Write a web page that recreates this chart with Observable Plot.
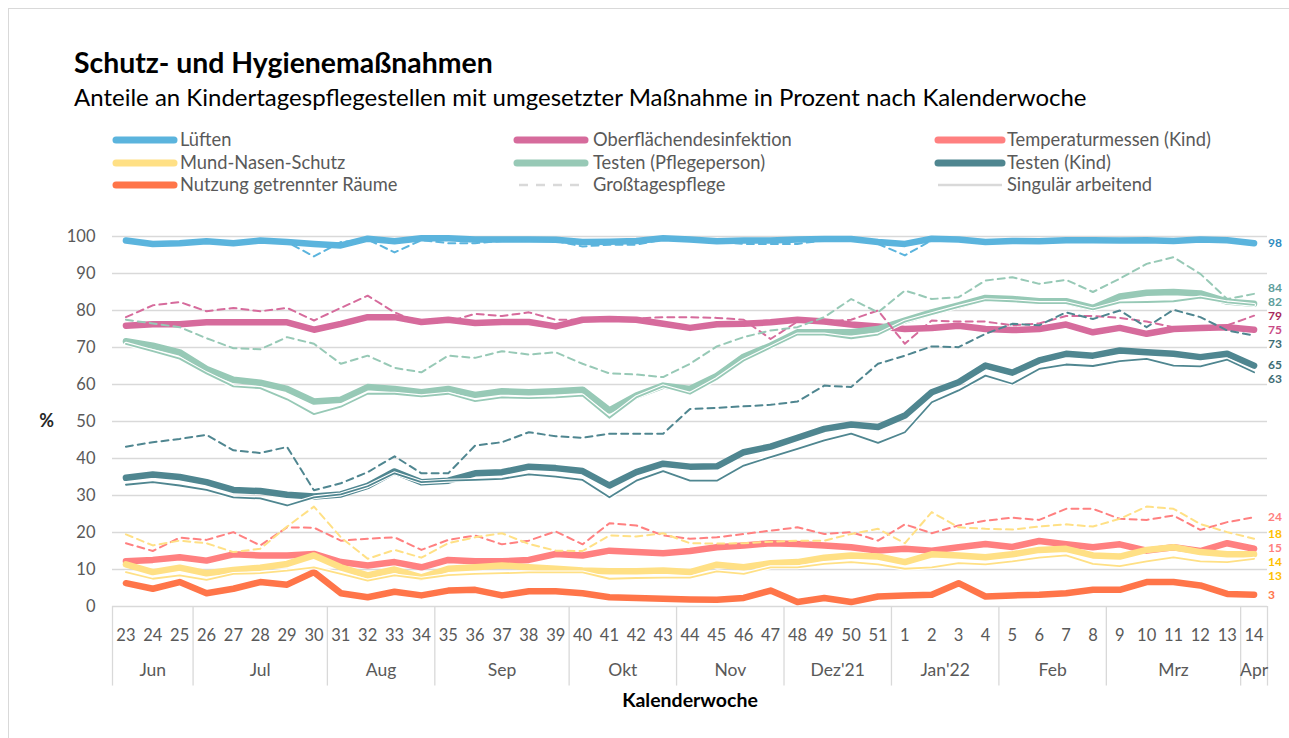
<!DOCTYPE html>
<html>
<head>
<meta charset="utf-8">
<script src="https://cdn.jsdelivr.net/npm/d3@7"></script>
<script src="https://cdn.jsdelivr.net/npm/@observablehq/plot@0.6"></script>
<style>
  html, body { margin: 0; padding: 0; background: #fff; }
  body { width: 1289px; height: 738px; position: relative; overflow: hidden; font-family: Lato, "Open Sans", sans-serif; }
  #frame { position: absolute; left: 8px; top: 8px; width: 1300px; height: 760px; border-left: 1px solid #d9d9d9; border-top: 1px solid #d9d9d9; }
  #title { position: absolute; left: 74px; top: 45px; font-size: 28.4px; font-weight: bold; color: #000; line-height: 34px; white-space: nowrap; }
  #subtitle { position: absolute; left: 74px; top: 82px; font-size: 24px; color: #000; line-height: 30px; white-space: nowrap; }
  #legend { position: absolute; left: 0; top: 125px; }
  #chart { position: absolute; left: 0; top: 200px; }
</style>
</head>
<body>
<div id="frame"></div>
<div id="title">Schutz- und Hygienemaßnahmen</div>
<div id="subtitle">Anteile an Kindertagespflegestellen mit umgesetzter Maßnahme in Prozent nach Kalenderwoche</div>
<svg id="legend" width="1289" height="75"></svg>
<div id="chart"></div>
<script>
// ---------- data ----------
const weekLabels = ["23","24","25","26","27","28","29","30","31","32","33","34","35","36","37","38","39","40","41","42","43","44","45","46","47","48","49","50","51","1","2","3","4","5","6","7","8","9","10","11","12","13","14"];
const monthLabels = ["Jun","Jul","Aug","Sep","Okt","Nov","Dez'21","Jan'22","Feb","Mrz","Apr"];
const monthWeekCounts = [3,5,4,5,4,4,4,4,4,5,1];

const measureNames = ["Lüften","Oberflächendesinfektion","Temperaturmessen (Kind)","Mund-Nasen-Schutz","Testen (Pflegeperson)","Testen (Kind)","Nutzung getrennter Räume"];
const typeNames = ["Gesamt","Großtagespflege","Singulär arbeitend"];

const lueftenGesamt = [98.9,98,98.2,98.7,98.2,98.9,98.5,98,97.6,99.4,98.7,99.5,99.5,99.2,99.2,99.2,99.1,98.5,98.6,98.8,99.5,99.2,98.7,98.9,98.9,99.2,99.3,99.3,98.5,98,99.4,99.2,98.5,98.8,98.7,99,99,98.9,99,98.8,99.2,99,98.2];
const lueftenGross = [98.9,98,98.2,98.7,98.2,98.9,98.5,94.6,98.5,99.2,95.7,99,98.2,98.2,98.8,99,98.8,97.3,97.8,97.8,99.2,99,98.5,98,98,98,99,99.3,98,94.9,99,99,98.5,98.8,98.7,99,99,98.9,99,98.8,99,99,98];

const desGesamt = [75.9,76.3,76.3,76.8,76.8,76.8,76.8,74.8,76.4,78.2,78.2,76.9,77.5,76.6,76.9,76.9,75.7,77.5,77.7,77.5,76.4,75.3,76.3,76.4,76.8,77.5,77,76.2,75.7,75,75.3,75.9,75,74.7,75,76.2,74.1,75.3,73.7,75,75.3,75.5,74.8];
const desGross = [78.2,81.4,82.3,79.8,80.7,79.8,80.7,77.3,80.7,84,79.5,76.5,77,79.1,78.5,79.5,77.5,77.5,77.5,77.8,78.2,78.2,78,77.5,72.3,77,77,77.5,80,71,77.3,77,77,76,76.5,78.5,78.5,78,77,75.5,75.5,76,78.6];

const tempGesamt = [12.2,12.6,13.3,12.4,14.1,13.8,13.8,14.2,12,11.1,12,10.6,12.6,12.2,12.2,12.6,14.2,13.8,15.1,14.7,14.4,15,16,16.5,17.1,16.9,16.5,16,15.1,15.6,15.1,16,16.9,16.1,17.7,16.8,16,16.8,15.1,16,15,17.1,15.6];
const tempGross = [17.1,15,18.6,18,20.1,16.5,21.4,21.3,17.8,18.3,18.7,15.3,18,19.2,16.8,17.8,20.3,16.8,22.5,21.9,19.2,18.3,18.7,19.6,20.5,21.4,19.6,20.1,17.8,22.2,19.8,21.9,23.2,24,23.4,26.4,26.4,23.7,23.4,24.6,20.7,22.8,24.1];

const mnsGesamt = [11.4,9.3,10.5,9,9.9,10.5,11.5,13.8,10.6,8.4,10,7.9,10.2,10.6,11.1,10.6,10.2,9.7,9.5,9.5,9.7,9.3,11.3,10.6,11.7,12,13.2,13.8,13.5,12,14.1,13.8,13.3,14.1,15.3,15.6,13.8,13.5,15.3,16,14.7,14.1,14.1];
const mnsGross = [19.5,16.5,17.8,17.1,14.7,15.6,21.6,27,18.7,12.9,15.3,13.2,17.1,18.7,19.8,16.9,15.1,15,19.2,18.9,19.8,17.1,17,17.1,17.5,17.8,17.8,19.6,21,17.1,25.5,21.4,21,20.8,21.6,22.2,21.6,23.7,27,26.4,22.3,20.1,18.3];
const mnsSing = [9.3,7.5,8.4,7.2,8.8,9,9.7,10.6,8.8,7,8.4,7.5,8.5,8.8,9,9.2,9.2,9.2,7.5,7.7,7.8,7.8,9.5,8.8,10.6,10.6,11.5,12,11.4,10.2,10.6,11.7,11.4,12.2,13.2,13.8,11.5,10.9,12.2,13.3,12.2,12,12.9];

const testPGesamt = [71.7,70.5,68.7,64.2,61.3,60.5,58.8,55.4,55.9,59.3,58.8,57.9,58.8,57.2,58.2,57.9,58.2,58.6,53,57,59.7,58.8,62.3,67.5,70.5,74.1,74.1,74.1,75,77.3,79.5,81.4,83.4,83.1,82.5,82.5,80.7,83.8,84.8,85,84.6,82.4,81.8];
const testPGross = [77.5,76.5,75.5,72.5,69.8,69.5,72.8,71,65.6,67.8,64.5,63.3,67.8,67.2,69,68.1,68.7,65.6,63,62.7,62,65.6,70.3,72.8,74.6,75.5,78.2,83.1,79.5,85.4,83.1,83.6,88.1,89,87.2,88.3,85,88.6,92.6,94.4,89.9,83.1,84.5];
const testPSing = [71,69,67,63,59.5,59,56,52,54,57.5,57.5,56.8,57.5,55.5,56.5,56.3,56.5,57,51,56.5,59.5,57.5,61.5,66.5,70,73.5,73.5,72.5,73.5,77,79,81,82.8,82.5,82,82,80.3,82.2,82.3,82.5,83.5,82.2,81.5];

const testKGesamt = [34.8,35.7,35,33.6,31.5,31.2,30.2,29.7,30.3,32.6,36.5,33.6,34,36,36.3,37.8,37.4,36.6,32.7,36.3,38.6,37.8,37.9,41.7,43.2,45.6,48,49.2,48.5,51.6,57.9,60.6,65.1,63.2,66.5,68.3,67.8,69.2,68.7,68.3,67.4,68.3,65.1];
const testKGross = [43.2,44.4,45.3,46.4,42.2,41.5,43.1,31.4,33.3,36.3,40.6,36,36,43.5,44.4,47.1,46,45.6,46.7,46.7,46.7,53.4,53.7,54.1,54.5,55.4,59.7,59.3,65.6,67.8,70.3,70.1,73.7,76.4,76,79.5,77.7,80,75.5,80.2,78.2,74.6,73.2];
const testKSing = [32.9,33.6,32.7,31.5,29.5,29.2,27.3,29.5,30.3,32.5,36,33.6,34,34.2,34.5,35.7,35.1,34.2,29.5,34,36.6,34,34,38.1,40.4,42.6,44.9,46.7,44.2,47.1,55.2,58.4,62.4,60.2,64.2,65.4,65,66.3,66.9,65.1,64.9,66.7,63.3];

const raumGesamt = [6.3,4.8,6.6,3.6,4.8,6.6,5.9,9.3,3.6,2.5,4,3,4.3,4.5,3,4.1,4.1,3.6,2.5,2.3,2.1,1.9,1.8,2.3,4.3,1.2,2.3,1.2,2.7,3,3.2,6.3,2.7,3,3.2,3.6,4.5,4.5,6.6,6.6,5.7,3.4,3.2];

// end-of-line value labels (text)
const endLabelTexts = ["98","84","82","79","75","73","65","63","24","18","15","14","13","3"];

// ---------- styles / layout (kept apart from data) ----------
const measureColors = ["#5BB4DD","#D66B9C","#FF8080","#FFE085","#97C9B6","#4F8690","#FF7549"];
const labelColors = ["#2E8BC0","#5E9E9C","#5E9E9C","#A8285C","#C94A86","#3D6C74","#3D6C74","#3D6C74","#FF7F7F","#FFC000","#FF7F7F","#FFC000","#FFC000","#FF7549"];
// vertical label placement (de-overlapped), in y-scale units
const endLabelY = [98.1,85.95,82.16,78.38,74.59,70.81,65.14,61.35,24.05,19.6,15.8,12.0,8.24,2.97];

const series = [
  {m:0, t:0, v:lueftenGesamt}, {m:0, t:1, v:lueftenGross},
  {m:1, t:0, v:desGesamt}, {m:1, t:1, v:desGross},
  {m:2, t:0, v:tempGesamt}, {m:2, t:1, v:tempGross},
  {m:3, t:0, v:mnsGesamt}, {m:3, t:1, v:mnsGross}, {m:3, t:2, v:mnsSing},
  {m:4, t:0, v:testPGesamt}, {m:4, t:1, v:testPGross}, {m:4, t:2, v:testPSing},
  {m:5, t:0, v:testKGesamt}, {m:5, t:1, v:testKGross}, {m:5, t:2, v:testKSing},
  {m:6, t:0, v:raumGesamt}
];

const rowsOf = s => s.v.map((v, i) => ({i, v, measure: measureNames[s.m], type: typeNames[s.t]}));

// month boundaries & centers in week-index units
const monthEnds = Array.from(d3.cumsum(monthWeekCounts));
const monthBounds = [-0.5, ...monthEnds.map(e => e - 0.5)];
const monthCenters = monthWeekCounts.map((c, k) => (monthBounds[k] + monthBounds[k + 1]) / 2);

// ---------- legend ----------
const legendItems = [
  {name: measureNames[0], kind: "thick", color: measureColors[0]},
  {name: measureNames[1], kind: "thick", color: measureColors[1]},
  {name: measureNames[2], kind: "thick", color: measureColors[2]},
  {name: measureNames[3], kind: "thick", color: measureColors[3]},
  {name: measureNames[4], kind: "thick", color: measureColors[4]},
  {name: measureNames[5], kind: "thick", color: measureColors[5]},
  {name: measureNames[6], kind: "thick", color: measureColors[6]},
  {name: typeNames[1], kind: "dash", color: "#D9D9D9"},
  {name: typeNames[2], kind: "thin", color: "#D9D9D9"}
];
const colX = [[116, 174, 180], [517, 585, 593], [938, 1002, 1007]];
const rowY = [15, 38, 60];
const lg = d3.select("#legend");
legendItems.forEach((it, k) => {
  const c = colX[k % 3], y = rowY[Math.floor(k / 3)];
  const ln = lg.append("line").attr("x1", c[0]).attr("x2", c[1]).attr("y1", y).attr("y2", y)
    .attr("stroke", it.color).attr("stroke-linecap", it.kind === "thick" ? "round" : "butt");
  if (it.kind === "thick") ln.attr("stroke-width", 7);
  if (it.kind === "dash") ln.attr("stroke-width", 2.5).attr("stroke-dasharray", "9,8").attr("x1", c[0] + 2);
  if (it.kind === "thin") ln.attr("stroke-width", 2.5);
  lg.append("text").attr("x", c[2]).attr("y", y).attr("dy", "0.35em")
    .attr("font-family", "Lato, sans-serif").attr("font-size", 18.3).attr("fill", "#595959").text(it.name);
});

// ---------- chart ----------
const marks = [];
marks.push(Plot.ruleY(d3.range(0, 101, 10), {stroke: "#D9D9D9", strokeWidth: 1.3}));
marks.push(Plot.ruleX(monthBounds, {x: d => d, y1: 0, y2: -21.5, stroke: "#D9D9D9", strokeWidth: 1.3}));

// thick (Gesamt)
series.filter(s => s.t === 0).forEach(s => {
  marks.push(Plot.line(rowsOf(s), {x: "i", y: "v", stroke: measureColors[s.m], strokeWidth: 6.5, strokeLinejoin: "round", strokeLinecap: "round"}));
});
// thin (Singulär arbeitend) with white halo
series.filter(s => s.t === 2).forEach(s => {
  marks.push(Plot.line(rowsOf(s), {x: "i", y: "v", stroke: "#ffffff", strokeWidth: 4, strokeLinejoin: "round"}));
  marks.push(Plot.line(rowsOf(s), {x: "i", y: "v", stroke: measureColors[s.m], strokeWidth: 1.8, strokeLinejoin: "round"}));
});
// dashed (Großtagespflege)
series.filter(s => s.t === 1).forEach(s => {
  marks.push(Plot.line(rowsOf(s), {x: "i", y: "v", stroke: measureColors[s.m], strokeWidth: 2, strokeDasharray: "7,5", strokeLinejoin: "round"}));
});

// week tick labels
marks.push(Plot.text(weekLabels, {x: (d, i) => i, y: () => 0, text: d => d, dy: 29, fill: "#595959", fontSize: 16.5}));
// month labels
marks.push(Plot.text(monthLabels, {x: (d, k) => monthCenters[k], y: () => 0, text: d => d, dy: 64, fill: "#595959", fontSize: 17.5}));
// axis title
marks.push(Plot.text(["Kalenderwoche"], {x: () => 21, y: () => 0, text: d => d, dy: 94, fill: "#000", fontSize: 19.5, fontWeight: "bold"}));
marks.push(Plot.text(["%"], {x: () => -0.5, y: () => 50, text: d => d, dx: -66, fill: "#262626", fontSize: 18, fontWeight: "bold"}));

// end labels
endLabelTexts.forEach((t, k) => {
  marks.push(Plot.text([t], {x: () => 42, y: () => endLabelY[k], text: d => d, dx: 14, textAnchor: "start", fill: labelColors[k], fontSize: 12, fontWeight: "bold"}));
});

const chart = Plot.plot({
  width: 1289,
  height: 530,
  marginTop: 36,
  marginBottom: 124,
  marginLeft: 112,
  marginRight: 22,
  x: {domain: [-0.5, 42.5], axis: null},
  y: {domain: [0, 100], ticks: 10, tickSize: 0, tickPadding: 17, label: null},
  style: {fontFamily: "Lato, sans-serif", fontSize: "16.5px", color: "#595959", background: "transparent", overflow: "visible"},
  marks
});
document.getElementById("chart").appendChild(chart);
</script>
</body>
</html>
